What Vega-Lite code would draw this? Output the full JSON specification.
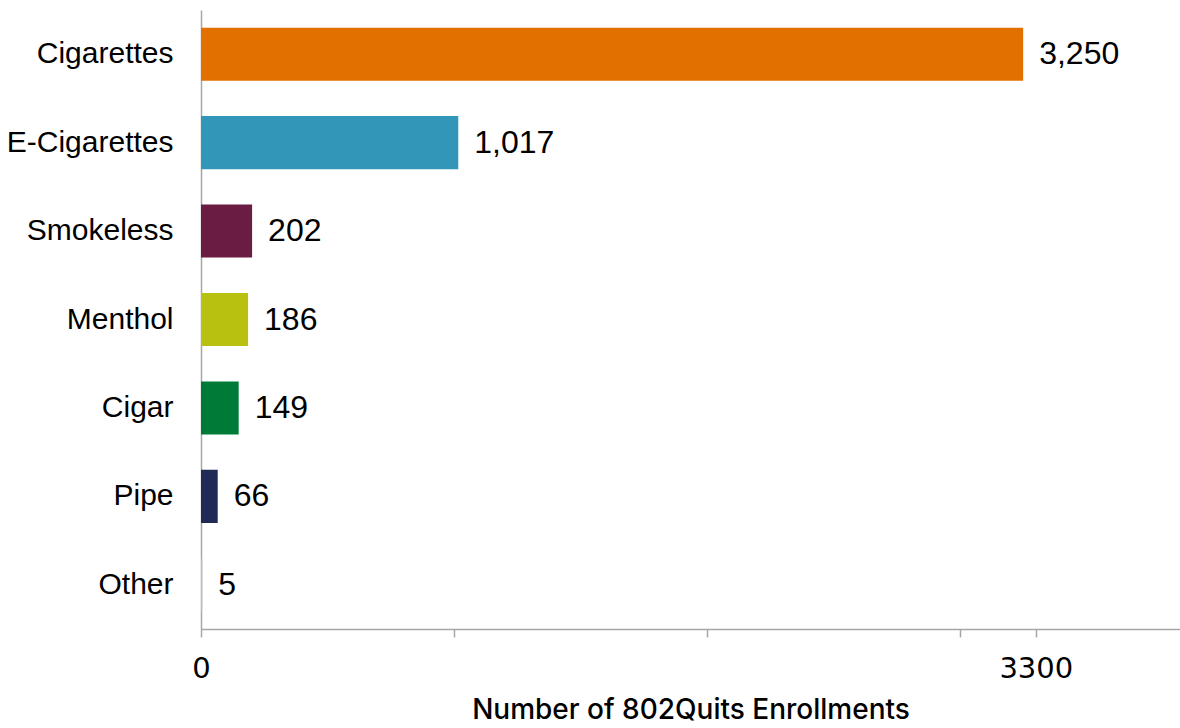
{
  "$schema": "https://vega.github.io/schema/vega-lite/v6.json",
  "autosize": "none",
  "padding": {"left": 201, "top": 10, "right": 0, "bottom": 99},
  "width": 979,
  "height": 619,
  "background": "white",
  "config": {"view": {"stroke": null}},
  "data": {
    "values": [
      {"product": "Cigarettes", "enrollments": 3250},
      {"product": "E-Cigarettes", "enrollments": 1017},
      {"product": "Smokeless", "enrollments": 202},
      {"product": "Menthol", "enrollments": 186},
      {"product": "Cigar", "enrollments": 149},
      {"product": "Pipe", "enrollments": 66},
      {"product": "Other", "enrollments": 5}
    ]
  },
  "encoding": {
    "y": {
      "field": "product",
      "type": "nominal",
      "sort": null,
      "scale": {"paddingInner": 0.4, "paddingOuter": 0.2},
      "axis": {
        "title": null,
        "ticks": false,
        "labelFont": "Liberation Sans",
        "labelFontSize": 30,
        "labelColor": "#000000",
        "labelPadding": 28,
        "domainColor": "#A6A6A6",
        "domainWidth": 1.5
      }
    },
    "x": {
      "field": "enrollments",
      "type": "quantitative",
      "scale": {"domain": [0, 3870], "nice": false, "zero": true},
      "axis": {
        "title": "Number of 802Quits Enrollments",
        "titleFont": "Inter",
        "titleFontSize": 28,
        "titleFontWeight": 500,
        "titleColor": "#000000",
        "titleBaseline": "alphabetic",
        "titleY": 89,
        "values": [0, 1000, 2000, 3000, 3300],
        "labelExpr": "datum.value == 0 || datum.value == 3300 ? datum.value : ''",
        "labelFont": "DejaVu Sans",
        "labelFontSize": 29,
        "labelColor": "#000000",
        "labelPadding": 17,
        "labelFlush": false,
        "labelOverlap": false,
        "tickSize": 8,
        "tickColor": "#A6A6A6",
        "tickWidth": 1.5,
        "domainColor": "#A6A6A6",
        "domainWidth": 1.5,
        "grid": false
      }
    }
  },
  "layer": [
    {
      "mark": {"type": "bar"},
      "encoding": {
        "color": {
          "field": "product",
          "type": "nominal",
          "legend": null,
          "scale": {
            "domain": ["Cigarettes", "E-Cigarettes", "Smokeless", "Menthol", "Cigar", "Pipe", "Other"],
            "range": ["#E17000", "#3296B9", "#6A1C42", "#B9C110", "#007A37", "#1F2A55", "#BBBBBB"]
          }
        }
      }
    },
    {
      "mark": {"type": "text", "align": "left", "baseline": "middle", "dx": 16, "font": "Liberation Sans", "fontSize": 32, "color": "#000000"},
      "encoding": {
        "text": {"field": "enrollments", "type": "quantitative", "format": ",d"}
      }
    }
  ]
}
